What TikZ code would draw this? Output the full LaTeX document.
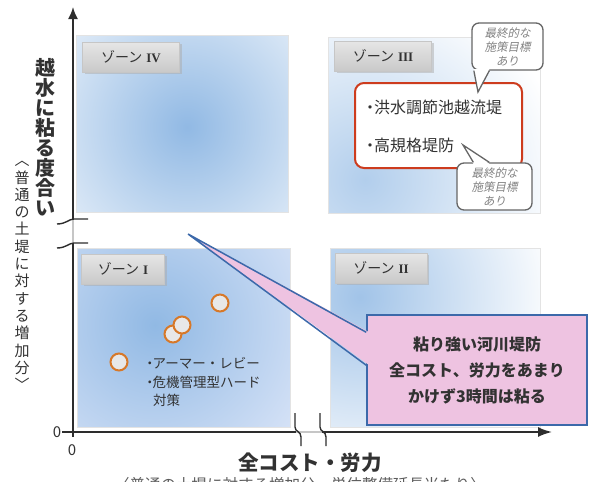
\documentclass[tikz,border=0pt]{standalone}
\usepackage{fontspec}
\setmainfont{Noto Sans CJK JP}
\newfontfamily\jpit[FakeSlant=0.2]{Noto Sans CJK JP}
\newfontfamily\rom{Liberation Serif}
\usetikzlibrary{arrows.meta,shadows,calc}
\definecolor{txtc}{RGB}{50,50,50}
\definecolor{zb}{RGB}{145,185,228}
\definecolor{redb}{RGB}{205,60,30}
\definecolor{orng}{RGB}{215,120,40}
\definecolor{pinkf}{RGB}{238,195,225}
\definecolor{blueb}{RGB}{60,105,170}
\definecolor{callg}{RGB}{130,130,130}
\definecolor{axisc}{RGB}{45,45,45}
\newcommand{\mydot}{・\hspace{-4pt}}
\begin{document}
\begin{tikzpicture}[x=1pt,y=-1pt,
  txt/.style={text=txtc, inner sep=0pt},
  zonebox/.style={draw=gray!22, line width=0.6pt, inner sep=0pt},
  tab/.style={minimum width=97pt, minimum height=30pt, inner sep=0pt, top color=gray!20, bottom color=gray!42, draw=gray!45, line width=0.4pt, drop shadow={shadow xshift=2pt, shadow yshift=-2pt, fill=gray!65}, text=txtc, font=\fontsize{14}{14}\selectfont},
  axisline/.style={draw=axisc, line width=1.8pt},
  brkline/.style={draw=axisc, line width=1.4pt},
  dotc/.style={circle, minimum size=17pt, inner sep=0pt, fill=gray!18, draw=orng, line width=2pt},
  callout/.style={draw=gray!80!black, fill=white, line width=1.3pt, rounded corners=7pt, inner sep=0pt, align=center, text=callg, font=\jpit\fontsize{11.5}{14}\selectfont},
  calltail/.style={draw=gray!80!black, line width=1.3pt}
]
\useasboundingbox (0,0) rectangle (595,482);
\clip (0,0) rectangle (595,482);
% zones
\begin{scope}\clip (76,35) rectangle (288,212);
\shade[inner color=zb, outer color=white] (187,127) circle (210);\end{scope}
\begin{scope}\clip (328,37) rectangle (540,213);
\shade[inner color=zb!70, outer color=white] (365,180) circle (200);\end{scope}
\begin{scope}\clip (77,248) rectangle (290,427);
\shade[inner color=zb, outer color=blue!4] (155,325) circle (250);\end{scope}
\begin{scope}\clip (330,248) rectangle (540,427);
\shade[inner color=zb!85, outer color=white] (360,297) circle (200);\end{scope}
\node[zonebox, minimum width=212pt, minimum height=177pt] (z4) at (182,123.5) {};
\node[zonebox, minimum width=212pt, minimum height=176pt] (z3) at (434,125) {};
\node[zonebox, minimum width=213pt, minimum height=179pt] (z1) at (183.5,337.5) {};
\node[zonebox, minimum width=210pt, minimum height=179pt] (z2) at (435,337.5) {};
% tabs
\node[tab] (t4) at (131,57) {ゾーン\hspace{4pt}{\rom\bfseries\fontsize{13}{13}\selectfont IV}};
\node[tab] (t3) at (383,56) {ゾーン\hspace{4pt}{\rom\bfseries\fontsize{13}{13}\selectfont III}};
\node[tab, minimum width=83pt] (t1) at (123,269) {ゾーン\hspace{4pt}{\rom\bfseries\fontsize{13}{13}\selectfont I}};
\node[tab, minimum width=92pt] (t2) at (381,268) {ゾーン\hspace{4pt}{\rom\bfseries\fontsize{13}{13}\selectfont II}};
% axes
\draw[axisline] (73,219) -- (73,20);
\draw[axisc, line width=1.8pt, -{Latex[length=12pt,width=10pt]}] (73,30) -- (73,7);
\draw[draw=gray!45, line width=1.2pt] (73,219) -- (73,243);
\draw[axisline] (73,243) -- (73,437);
\draw[axisline] (62,432) -- (296,432);
\draw[draw=gray!45, line width=1.2pt] (296,432) -- (322,432);
\draw[axisc, line width=1.8pt, -{Latex[length=14pt,width=10pt]}] (322,432) -- (552,432);
\draw[brkline] (57,224) .. controls (66,224) and (69,219) .. (74,219) -- (88,219);
\draw[brkline] (57,248) .. controls (66,248) and (69,243) .. (74,243) -- (88,243);
\draw[brkline] (295,413) -- (295,427) .. controls (295,432) and (301,431) .. (301,437) -- (301,446);
\draw[brkline] (320,413) -- (320,427) .. controls (320,432) and (326,431) .. (326,437) -- (326,446);
\node[txt, font=\fontsize{15}{15}\selectfont] (o1) at (57,432) {0};
\node[txt, font=\fontsize{15}{15}\selectfont] (o2) at (72,450) {0};
% axis labels
\node[txt, font=\bfseries\fontsize{20}{20}\selectfont, align=center] (ylab) at (45,137) {越\\水\\に\\粘\\る\\度\\合\\い};
\node[txt, font=\fontsize{15}{17.3}\selectfont, align=center] (ysub) at (22,276) {︿\\普\\通\\の\\土\\堤\\に\\対\\す\\る\\増\\加\\分\\﹀};
\node[txt, font=\bfseries\fontsize{20.5}{20.5}\selectfont] (xlab) at (310,463) {全コスト・労力};
\node[txt, font=\fontsize{15.5}{15.5}\selectfont, text=txtc!80] (xsub) at (300,485) {〈普通の土堤に対する増加分・単位整備延長当たり〉};
% zone III content
\node[draw=redb, line width=2pt, fill=white, rounded corners=9pt, minimum width=167pt, minimum height=85pt, inner sep=0pt] (rb) at (438.5,125.5) {};
\node[txt, anchor=west, font=\fontsize{16}{16}\selectfont] (r1) at (362,107) {\mydot 洪水調節池越流堤};
\node[txt, anchor=west, font=\fontsize{16}{16}\selectfont] (r2) at (362,145) {\mydot 高規格堤防};
% callouts
\node[callout, minimum width=71pt, minimum height=47pt] (cb1) at (507.5,46.5) {最終的な\\施策目標\\あり};
\coordinate (ct1) at (478,92);
\fill[white] ($(cb1.south west)+(2.5,-1.5)$) -- (ct1) -- ($(cb1.south west)+(18,-1.5)$) -- cycle;
\draw[calltail] ($(cb1.south west)+(2.5,0)$) -- (ct1) -- ($(cb1.south west)+(18,0)$);
\node[callout, minimum width=75pt, minimum height=47pt] (cb2) at (494.5,186.5) {最終的な\\施策目標\\あり};
\coordinate (ct2) at (463,145);
\fill[white] ($(cb2.north west)+(17,1.5)$) -- (ct2) -- ($(cb2.north west)+(33,1.5)$) -- cycle;
\draw[calltail] ($(cb2.north west)+(17,0)$) -- (ct2) -- ($(cb2.north west)+(33,0)$);
% zone I content
\node[dotc] (c1) at (220,303) {};
\node[dotc] (c2) at (173,334) {};
\node[dotc] (c3) at (182,325) {};
\node[dotc] (c4) at (119,362) {};
\node[txt, anchor=west, font=\fontsize{13.5}{13.5}\selectfont] (a1) at (143,363) {\mydot アーマー・レビー};
\node[txt, anchor=west, font=\fontsize{13.5}{13.5}\selectfont] (a2) at (143,382) {\mydot 危機管理型ハード};
\node[txt, anchor=west, font=\fontsize{13.5}{13.5}\selectfont] (a3) at (153,400) {対策};
% pink callout
\node[draw=blueb, fill=pinkf, line width=1.5pt, minimum width=220pt, minimum height=110pt, inner sep=0pt, align=center, text=txtc, font=\bfseries\fontsize{16}{26}\selectfont] (pk) at (477,370) {粘り強い河川堤防\\全コスト、労力をあまり\\かけず3時間は粘る};
\coordinate (wt) at (188,234);
\fill[pinkf] (wt) -- ($(pk.north west)+(3,18)$) -- ($(pk.north west)+(3,51)$) -- cycle;
\draw[blueb, line width=1.5pt, line join=miter] ($(pk.north west)+(0,18)$) -- (wt) -- ($(pk.north west)+(0,51)$);
\end{tikzpicture}
\end{document}
